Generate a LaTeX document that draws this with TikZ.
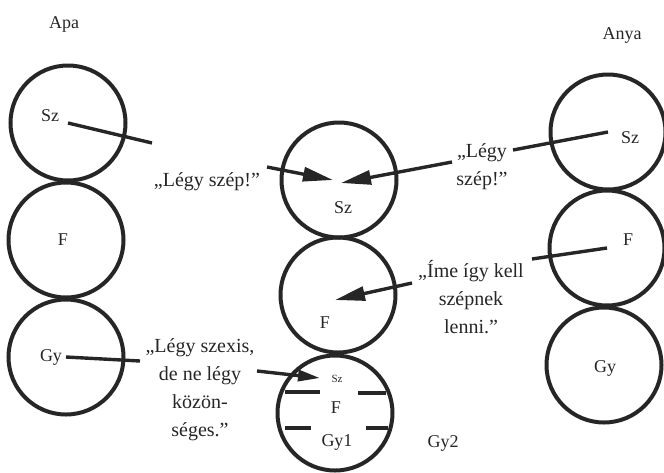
\documentclass[tikz,border=0pt]{standalone}
\usepackage{fontspec}
\setmainfont{Liberation Serif}
\usetikzlibrary{arrows.meta}
\definecolor{ink}{HTML}{262626}
\tikzset{
	ring/.style={circle, draw=ink, line width=4pt, minimum size=115pt, inner sep=0pt},
	lbl/.style={text=ink, font=\fontsize{18}{28}\selectfont, inner sep=0pt},
	small/.style={text=ink, font=\fontsize{11}{13}\selectfont, inner sep=0pt},
	quote/.style={lbl, font=\fontsize{20}{28}\selectfont, align=center},
	wire/.style={draw=ink, line width=3.4pt},
	point/.style={wire, -{Triangle[length=30pt,width=14pt]}},
	shortpoint/.style={wire, -{Triangle[length=22pt,width=11pt]}},
	bar/.style={draw=ink, line width=4pt}
}

\begin{document}
\begin{tikzpicture}[x=1pt,y=-1pt]
		%%%%% START %%%%%
		\useasboundingbox (0,0) rectangle (664,472);
		
		% Apa
		\node[lbl] (apa) at (64,24) {Apa};
		\node[ring] (apaSz) at (68,123) {};
		\node[ring] (apaF) at (66,240) {};
		\node[ring] (apaGy) at (66,357) {};
		\node[lbl] (apaSzT) at (50,116) {Sz};
		\node[lbl] (apaFT) at (63,240) {F};
		\node[lbl] (apaGyT) at (51,357) {Gy};
		
		% Anya
		\node[lbl] (anya) at (622,35) {Anya};
		\node[ring] (anyaSz) at (608,132) {};
		\node[ring] (anyaF) at (607,248) {};
		\node[ring] (anyaGy) at (604,365) {};
		\node[lbl] (anyaSzT) at (630,138) {Sz};
		\node[lbl] (anyaFT) at (628,240) {F};
		\node[lbl] (anyaGyT) at (605,368) {Gy};
		
		% gyerek
		\node[ring] (gySz) at (339,180) {};
		\node[ring] (gyF) at (338,295) {};
		\node[ring] (gyGy) at (335,413) {};
		\node[lbl] (gySzT) at (343,208) {Sz};
		\node[lbl] (gyFT) at (325,323) {F};
		\node[small] (kisSz) at (337,379) {Sz};
		\node[lbl] (kisF) at (336,408) {F};
		\node[lbl] (gyOne) at (337,442) {Gy1};
		\node[lbl] (gyTwo) at (443,443) {Gy2};
		
		\draw[bar] (285,392) -- (320,392);
		\draw[bar] (358,393) -- (386,393);
		\draw[bar] (285,428) -- (311,428);
		\draw[bar] (366,428) -- (388,428);
		
		% uzenetek
		\node[quote] (legyL) at (207,182) {„Légy szép!”};
		\node[quote] (legyR) at (482,167) {„Légy\\szép!”};
		\node[quote] (ime) at (471,297) {„Íme így kell\\szépnek\\lenni.”};
		\node[quote] (szexis) at (200,390) {„Légy szexis,\\de ne légy\\közön-\\séges.”};
		
		\coordinate (l1) at (152,143);
		\coordinate (l2) at (267,167);
		\coordinate (t1) at (333,180);
		\draw[wire] (apaSz.center) -- (l1);
		\draw[point] (l2) -- (t1);
		
		\coordinate (r1) at (513,150);
		\coordinate (r2) at (452,162);
		\coordinate (t2) at (341,183);
		\draw[wire] (anyaSz.center) -- (r1);
		\draw[point] (r2) -- (t2);
		
		\coordinate (f1) at (532,259);
		\coordinate (f2) at (412,283);
		\coordinate (t3) at (335,300);
		\draw[wire] (anyaF.center) -- (f1);
		\draw[point] (f2) -- (t3);
		
		\coordinate (g1) at (140,361);
		\coordinate (g2) at (257,371);
		\coordinate (t4) at (320,378);
		\draw[wire] (apaGy.center) -- (g1);
		\draw[shortpoint] (g2) -- (t4);
		
		%%%%% END %%%%%
\end{tikzpicture}
\end{document}
